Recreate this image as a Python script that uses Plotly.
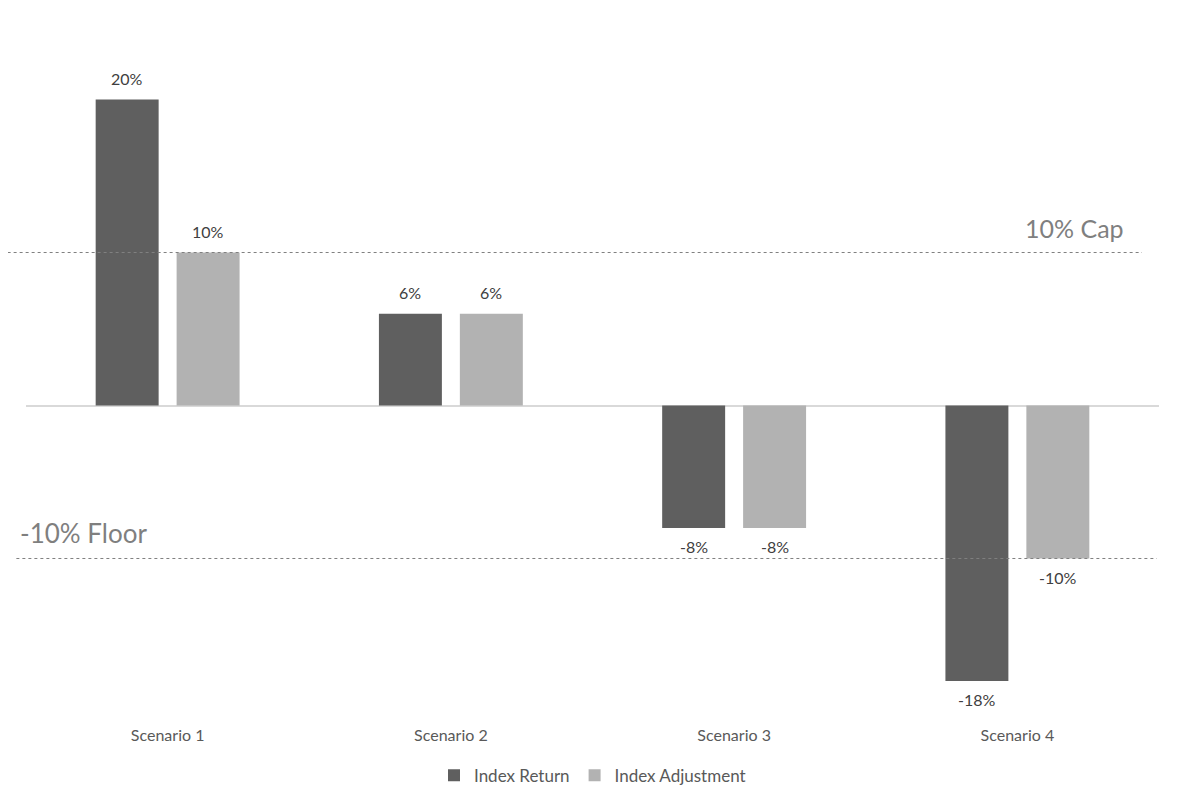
import plotly.graph_objects as go

categories = ["Scenario 1", "Scenario 2", "Scenario 3", "Scenario 4"]
index_return = [20, 6, -8, -18]
index_adjustment = [10, 6, -8, -10]
cap_value = 10
floor_value = -10
series_names = ["Index Return", "Index Adjustment"]
colors = ["#5f5f5f", "#b2b2b2"]

FONT = "Lato, 'Open Sans', sans-serif"

fig = go.Figure()
fig.add_trace(go.Bar(x=categories, y=index_return, name=series_names[0],
                     marker=dict(color=colors[0], line=dict(width=0))))
fig.add_trace(go.Bar(x=categories, y=index_adjustment, name=series_names[1],
                     marker=dict(color=colors[1], line=dict(width=0))))

# data labels
for vals, xs in ((index_return, -40.5), (index_adjustment, 40.5)):
    for c, v in zip(categories, vals):
        fig.add_annotation(x=c, y=v, xref="x", yref="y", text=f"{v}%",
                           showarrow=False, xshift=xs,
                           yshift=21 if v > 0 else -19,
                           font=dict(family=FONT, size=16, color="#404040"),
                           xanchor="center", yanchor="middle")

# cap / floor lines
fig.add_shape(type="line", xref="paper", yref="y", x0=-0.0215, x1=0.985,
              y0=cap_value, y1=cap_value,
              line=dict(color="#808080", width=1, dash="dot"))
fig.add_shape(type="line", xref="paper", yref="y", x0=-0.0085, x1=0.998,
              y0=floor_value, y1=floor_value,
              line=dict(color="#808080", width=1, dash="dot"))
fig.add_annotation(xref="paper", yref="y", x=0.971, y=cap_value, text="10% Cap",
                   showarrow=False, xanchor="right", yanchor="middle", yshift=25,
                   font=dict(family=FONT, size=25, color="#7f7f7f"))
fig.add_annotation(xref="paper", yref="y", x=-0.007, y=floor_value, text="-10% Floor",
                   showarrow=False, xanchor="left", yanchor="middle", yshift=25,
                   font=dict(family=FONT, size=26, color="#7f7f7f"))

fig.update_layout(
    width=1182, height=809,
    margin=dict(l=18, r=31, t=32, b=102),
    paper_bgcolor="white", plot_bgcolor="white",
    barmode="group", bargap=0.4285, bargroupgap=0.222,
    font=dict(family=FONT, size=16, color="#595959"),
    showlegend=True,
    legend=dict(orientation="h", x=0.5, xanchor="center", y=-0.09, yanchor="middle",
                font=dict(family=FONT, size=17, color="#595959"),
                itemwidth=30, traceorder="normal"),
    xaxis=dict(showgrid=False, showline=False, ticks="", tickfont=dict(size=16, color="#595959"),
               ticklabelstandoff=9),
    yaxis=dict(range=[-20.23, 23.89], showgrid=False, showticklabels=False,
               zeroline=True, zerolinecolor="#d9d9d9", zerolinewidth=2, showline=False),
)

fig.write_html("out.html")
